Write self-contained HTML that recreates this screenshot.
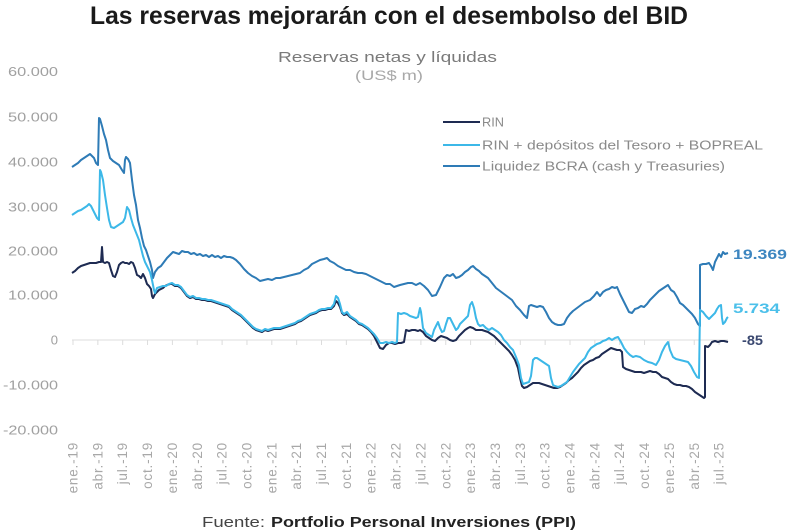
<!DOCTYPE html>
<html>
<head>
<meta charset="utf-8">
<style>
html,body{margin:0;padding:0;background:#fff;}
svg{display:block;}
text{font-family:"Liberation Sans",Arial,sans-serif;}
</style>
</head>
<body>
<svg width="800" height="531" viewBox="0 0 800 531" xmlns="http://www.w3.org/2000/svg">
<rect width="800" height="531" fill="#fff"/>
<!-- Title -->
<text x="90" y="24" font-size="25" font-weight="bold" fill="#1a1a1a" textLength="598" lengthAdjust="spacingAndGlyphs">Las reservas mejorarán con el desembolso del BID</text>
<!-- Subtitle -->
<text x="278" y="62" font-size="15" fill="#7a7a7a" textLength="219" lengthAdjust="spacingAndGlyphs">Reservas netas y líquidas</text>
<text x="355" y="80" font-size="14" fill="#a8a8a8" textLength="68" lengthAdjust="spacingAndGlyphs">(US$ m)</text>

<!-- Y axis labels -->
<g font-size="13" fill="#a0a0a0" text-anchor="end">
<text x="58" y="76" textLength="50" lengthAdjust="spacingAndGlyphs">60.000</text>
<text x="58" y="121.5" textLength="50" lengthAdjust="spacingAndGlyphs">50.000</text>
<text x="58" y="166.5" textLength="50" lengthAdjust="spacingAndGlyphs">40.000</text>
<text x="58" y="211.5" textLength="50" lengthAdjust="spacingAndGlyphs">30.000</text>
<text x="58" y="255.5" textLength="50" lengthAdjust="spacingAndGlyphs">20.000</text>
<text x="58" y="299.5" textLength="50" lengthAdjust="spacingAndGlyphs">10.000</text>
<text x="58" y="344.5">0</text>
<text x="58" y="389.5" textLength="55" lengthAdjust="spacingAndGlyphs">-10.000</text>
<text x="58" y="434.5" textLength="55" lengthAdjust="spacingAndGlyphs">-20.000</text>
</g>

<!-- Zero axis and ticks -->
<line x1="72" y1="340" x2="728" y2="340" stroke="#dcdcdc" stroke-width="1"/>
<g stroke="#dcdcdc" stroke-width="1">
<line x1="73" y1="340" x2="73" y2="345"/><line x1="97.85" y1="340" x2="97.85" y2="345"/><line x1="122.7" y1="340" x2="122.7" y2="345"/><line x1="147.55" y1="340" x2="147.55" y2="345"/><line x1="172.4" y1="340" x2="172.4" y2="345"/><line x1="197.25" y1="340" x2="197.25" y2="345"/><line x1="222.1" y1="340" x2="222.1" y2="345"/><line x1="246.95" y1="340" x2="246.95" y2="345"/><line x1="271.8" y1="340" x2="271.8" y2="345"/><line x1="296.65" y1="340" x2="296.65" y2="345"/><line x1="321.5" y1="340" x2="321.5" y2="345"/><line x1="346.35" y1="340" x2="346.35" y2="345"/><line x1="371.2" y1="340" x2="371.2" y2="345"/><line x1="396.05" y1="340" x2="396.05" y2="345"/><line x1="420.9" y1="340" x2="420.9" y2="345"/><line x1="445.75" y1="340" x2="445.75" y2="345"/><line x1="470.6" y1="340" x2="470.6" y2="345"/><line x1="495.45" y1="340" x2="495.45" y2="345"/><line x1="520.3" y1="340" x2="520.3" y2="345"/><line x1="545.15" y1="340" x2="545.15" y2="345"/><line x1="570" y1="340" x2="570" y2="345"/><line x1="594.85" y1="340" x2="594.85" y2="345"/><line x1="619.7" y1="340" x2="619.7" y2="345"/><line x1="644.55" y1="340" x2="644.55" y2="345"/><line x1="669.4" y1="340" x2="669.4" y2="345"/><line x1="694.25" y1="340" x2="694.25" y2="345"/><line x1="719.1" y1="340" x2="719.1" y2="345"/>
</g>

<!-- X labels -->
<g font-size="13.5" fill="#a8a8a8" text-anchor="end" letter-spacing="0.8">
<text transform="translate(77.5,442) rotate(-90)">ene.-19</text>
<text transform="translate(102.35,442) rotate(-90)">abr.-19</text>
<text transform="translate(127.2,442) rotate(-90)">jul.-19</text>
<text transform="translate(152.05,442) rotate(-90)">oct.-19</text>
<text transform="translate(176.9,442) rotate(-90)">ene.-20</text>
<text transform="translate(201.75,442) rotate(-90)">abr.-20</text>
<text transform="translate(226.6,442) rotate(-90)">jul.-20</text>
<text transform="translate(251.45,442) rotate(-90)">oct.-20</text>
<text transform="translate(276.3,442) rotate(-90)">ene.-21</text>
<text transform="translate(301.15,442) rotate(-90)">abr.-21</text>
<text transform="translate(326,442) rotate(-90)">jul.-21</text>
<text transform="translate(350.85,442) rotate(-90)">oct.-21</text>
<text transform="translate(375.7,442) rotate(-90)">ene.-22</text>
<text transform="translate(400.55,442) rotate(-90)">abr.-22</text>
<text transform="translate(425.4,442) rotate(-90)">jul.-22</text>
<text transform="translate(450.25,442) rotate(-90)">oct.-22</text>
<text transform="translate(475.1,442) rotate(-90)">ene.-23</text>
<text transform="translate(499.95,442) rotate(-90)">abr.-23</text>
<text transform="translate(524.8,442) rotate(-90)">jul.-23</text>
<text transform="translate(549.65,442) rotate(-90)">oct.-23</text>
<text transform="translate(574.5,442) rotate(-90)">ene.-24</text>
<text transform="translate(599.35,442) rotate(-90)">abr.-24</text>
<text transform="translate(624.2,442) rotate(-90)">jul.-24</text>
<text transform="translate(649.05,442) rotate(-90)">oct.-24</text>
<text transform="translate(673.9,442) rotate(-90)">ene.-25</text>
<text transform="translate(698.75,442) rotate(-90)">abr.-25</text>
<text transform="translate(723.6,442) rotate(-90)">jul.-25</text>
</g>

<!-- Liquidez BCRA -->
<polyline fill="none" stroke="#2e7bb6" stroke-width="2" stroke-linejoin="round" points="72,167 75,165 78,163 81,160 84,158 87,156 90,154 92,156 94,158 96,163 98,165 99,118 100,119 102,126 104,134 106,140 108,150 110,158 113,161 116,163 119,165 122,170 124,173 125,160 126,157 128,159 130,163 132,180 134,195 136,205 138,220 140,228 142,238 144,246 146,250 148,256 150,262 152,270 153,278 155,272 158,268 161,266 164,262 167,258 170,255 173,252 176,253 179,254 182,251 185,252 188,252 191,254 194,253 197,255 200,254 203,256 206,255 209,257 212,255 215,257 218,256 221,258 224,256 227,257 230,257 233,258 236,260 240,264 244,269 248,273 252,276 256,278 260,281 264,280 268,279 272,280 276,278 280,278 284,277 288,276 292,275 296,274 300,273 304,270 308,268 312,264 316,262 320,260 324,259 327,258 330,261 334,263 338,266 342,268 346,270 350,270 354,272 358,273 362,273 366,274 370,276 374,278 378,280 382,282 386,284 390,284 394,287 397,286 400,285 404,284 408,283 412,283 416,285 420,283 424,286 428,290 432,296 436,295 440,287 444,278 447,275 450,276 453,274 456,278 459,277 462,275 465,272 468,270 471,267 473,266 476,269 479,271 482,274 485,276 488,278 492,283 496,288 500,291 504,294 508,297 512,300 516,306 520,310 524,315 527,318 529,306 531,305 534,306 537,307 540,306 543,307 546,312 549,318 552,322 555,324 558,325 561,325 564,324 567,318 570,314 573,311 577,308 581,305 585,302 590,300 594,296 597,292 600,296 603,292 606,290 609,289 612,287 615,288 617,287 620,294 623,300 626,306 629,312 632,313 635,309 638,308 641,306 644,307 647,304 650,300 653,297 656,294 659,291 662,289 665,287 668,285 671,290 674,292 677,297 680,303 683,305 686,308 689,311 692,314 695,318 698,324 700,326 700,265 703,264 706,264 709,263 711,266 713,270 715,262 717,258 719,254 721,257 723,252 725,254 728,253"/>

<!-- RIN -->
<polyline fill="none" stroke="#1e2b52" stroke-width="2" stroke-linejoin="round" points="72,273 75,271 78,268 81,266 84,265 87,264 90,263 93,263 96,263 99,262 101,262 102,247 103,262 105,263 107,262 109,263 111,270 113,276 115,277 117,272 119,265 121,263 123,262 125,263 127,263 129,264 131,262 133,263 135,268 137,275 139,276 141,278 143,274 145,278 147,284 149,286 151,289 152,296 153,298 155,294 157,292 159,290 161,289 163,288 165,286 167,285 170,284 172,284 175,286 178,286 181,288 184,292 187,296 190,298 193,297 196,299 199,299 202,300 205,300 208,301 211,301 214,302 217,303 220,304 223,305 226,306 229,307 232,310 235,312 238,314 241,316 244,319 247,322 250,325 253,328 256,330 259,331 262,332 265,330 268,331 271,330 274,329 277,329 280,329 283,328 286,327 289,326 292,325 295,324 298,322 301,321 304,319 307,317 310,315 313,314 316,313 319,311 322,310 325,310 328,309 331,309 334,306 336,301 338,303 340,307 342,313 344,315 347,314 350,317 353,319 356,321 359,324 362,325 365,327 368,329 371,332 374,336 377,342 380,348 383,349 386,345 389,343 392,343 395,344 398,343 401,343 404,342 406,330 409,331 412,330 415,330 418,331 420,330 423,332 426,336 429,338 432,340 435,341 438,338 441,336 444,337 447,338 450,340 453,341 456,340 459,336 462,333 465,330 468,328 470,327 473,328 476,330 479,330 482,330 485,331 488,332 491,334 494,336 497,339 500,342 503,345 506,348 509,351 512,355 515,360 518,368 520,378 522,386 524,388 527,387 530,385 533,383 536,383 539,383 542,384 545,385 548,386 551,387 554,388 557,388 560,387 563,385 566,383 569,380 572,378 575,375 578,372 581,368 584,365 587,363 590,361 593,360 596,358 599,357 602,354 605,352 608,350 611,348 614,349 617,350 620,350 622,352 623,367 626,369 629,370 632,371 635,372 638,372 641,372 644,373 647,372 650,371 653,372 656,372 659,374 662,377 665,378 668,379 671,382 674,384 677,385 680,385 683,386 686,386 689,387 692,389 695,392 698,394 701,396 704,398 705,397 705,346 708,347 710,345 712,342 715,341 718,342 721,341 724,341 728,342"/>

<!-- RIN + depositos -->
<polyline fill="none" stroke="#3cb8e8" stroke-width="2" stroke-linejoin="round" points="72,215 75,213 78,211 81,210 84,208 87,206 89,204 91,206 93,210 95,214 97,218 99,220 100,170 101,172 103,180 105,195 107,208 109,220 111,227 114,228 117,226 120,224 123,222 125,218 127,207 129,210 131,218 133,225 135,230 137,235 139,240 141,248 143,256 145,262 148,268 150,272 152,280 154,290 155,293 157,288 160,287 163,286 166,286 169,284 172,283 175,285 178,285 181,287 184,291 187,295 190,297 193,296 196,298 199,298 202,299 205,299 208,300 211,300 214,301 217,302 220,303 223,304 226,305 229,306 232,309 235,311 238,313 241,315 244,318 247,321 250,324 253,327 256,329 259,330 262,331 265,329 268,330 271,329 274,328 277,328 280,328 283,327 286,326 289,325 292,324 295,323 298,321 301,320 304,318 307,316 310,314 313,313 316,312 319,310 322,309 325,309 328,308 331,308 334,304 336,296 338,298 340,304 342,312 344,314 347,312 350,316 353,318 356,320 359,323 362,324 365,326 368,328 371,331 374,334 377,338 380,343 383,343 386,342 389,343 392,342 395,343 397,342 398,313 401,314 404,313 407,314 410,316 413,317 416,318 418,317 420,308 421,312 423,328 426,333 429,335 432,337 434,330 436,326 438,322 440,328 442,332 444,331 446,324 448,318 450,318 452,322 454,326 456,330 458,328 460,324 462,322 464,320 466,318 468,316 470,305 472,302 474,308 476,318 478,324 480,326 483,325 486,328 489,330 492,328 495,330 498,332 501,335 504,340 507,343 510,347 513,350 516,357 519,365 521,378 523,384 526,383 529,382 531,376 533,360 535,358 537,358 540,360 543,362 546,364 549,366 551,378 553,385 555,386 558,387 561,386 564,384 567,382 570,377 573,372 576,368 579,364 582,361 585,358 588,352 591,348 594,346 597,344 600,343 603,341 606,340 609,338 612,340 615,338 618,337 621,342 624,348 627,352 630,355 633,357 636,356 640,357 644,360 648,362 652,363 656,365 659,360 662,352 665,346 668,342 670,350 673,357 676,359 680,360 684,361 688,362 691,366 694,372 697,377 699,378 700,310 703,312 706,316 709,319 712,316 715,313 717,309 719,306 721,305 722,318 723,324 725,322 727,318 728,317"/>

<!-- End labels -->
<text x="733" y="259" font-size="14" font-weight="bold" fill="#3d86c0" textLength="54" lengthAdjust="spacingAndGlyphs">19.369</text>
<text x="733" y="313" font-size="14" font-weight="bold" fill="#4cc0ea" textLength="47" lengthAdjust="spacingAndGlyphs">5.734</text>
<text x="742" y="345" font-size="14" font-weight="bold" fill="#3a4870" textLength="21" lengthAdjust="spacingAndGlyphs">-85</text>

<!-- Legend -->
<line x1="443" y1="122" x2="480" y2="122" stroke="#1e2b52" stroke-width="2"/>
<line x1="443" y1="145" x2="480" y2="145" stroke="#3cb8e8" stroke-width="2"/>
<line x1="443" y1="166" x2="480" y2="166" stroke="#2e7bb6" stroke-width="2"/>
<g font-size="12.5" fill="#8a8a8a">
<text x="482" y="126.5" textLength="22" lengthAdjust="spacingAndGlyphs">RIN</text>
<text x="482" y="149.5" textLength="281" lengthAdjust="spacingAndGlyphs">RIN + depósitos del Tesoro + BOPREAL</text>
<text x="482" y="170.5" textLength="243" lengthAdjust="spacingAndGlyphs">Liquidez BCRA (cash y Treasuries)</text>
</g>

<!-- Footer -->
<text x="202" y="527" font-size="15" fill="#444" textLength="63" lengthAdjust="spacingAndGlyphs">Fuente:</text>
<text x="271" y="527" font-size="15" font-weight="bold" fill="#222" textLength="305" lengthAdjust="spacingAndGlyphs">Portfolio Personal Inversiones (PPI)</text>
</svg>
</body>
</html>
